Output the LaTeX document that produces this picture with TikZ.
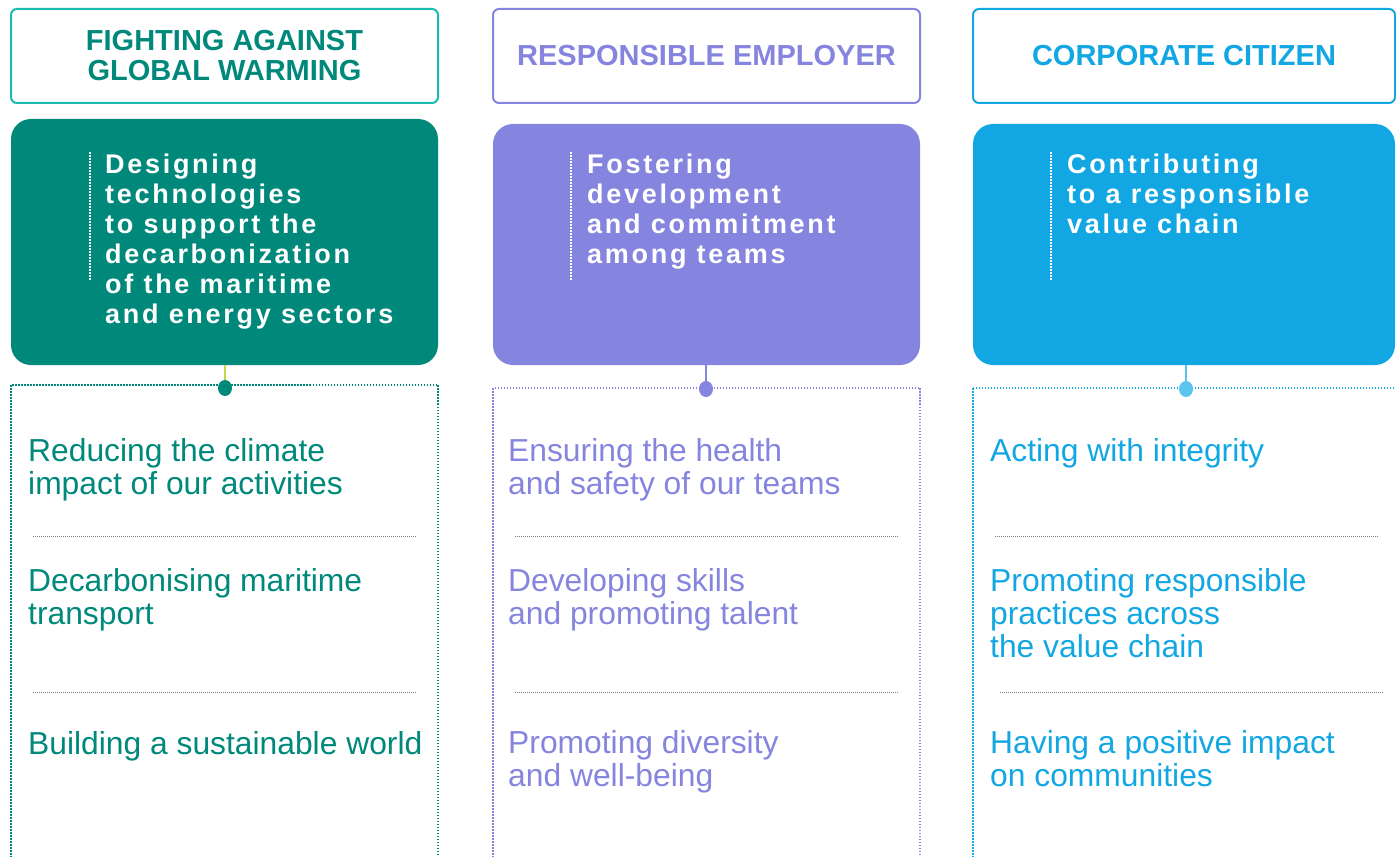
\documentclass[tikz,border=0pt]{standalone}
\usepackage{fontspec}
\setmainfont{Liberation Sans}
\newfontfamily\trackfont[LetterSpace=10]{Liberation Sans}
\usepackage{xcolor}
\usepackage{tikz}
\usetikzlibrary{shapes.geometric}
\definecolor{tealdark}{HTML}{00897B}
\definecolor{teallight}{HTML}{1ABCB0}
\definecolor{lavender}{HTML}{8585DF}
\definecolor{skyblue}{HTML}{12A7E3}
\definecolor{skylight}{HTML}{5BC5F2}
\definecolor{limegreen}{HTML}{BFD94A}

\begin{document}
\begin{tikzpicture}[
    x=1pt, y=-1pt,
    header/.style={
        % The shape:
        rectangle, rounded corners=6pt,
        minimum width=427pt, minimum height=94pt,
        line width=2pt, inner sep=0pt,
        % The fonts
        align=center, font=\fontsize{29}{30}\selectfont\bfseries},
    pillar/.style={
        rectangle, rounded corners=20pt,
        minimum width=427pt, inner sep=0pt},
    % base anchor = baseline of the last line
    goaltext/.style={
        text=white, align=left, inner sep=0pt, anchor=base west,
        font=\trackfont\bfseries\fontsize{27}{30}\selectfont},
    item/.style={
        align=left, inner sep=0pt, anchor=base west,
        font=\fontsize{31.8}{33}\selectfont},
    knob/.style={
        ellipse, minimum width=14pt, minimum height=16pt, inner sep=0pt},
    stem/.style={line width=1.8pt},
    tick/.style={white, line width=1.5pt, dash pattern=on 1.5pt off 1.5pt},
    actbox/.style={line width=1.5pt, dash pattern=on 1.5pt off 1.5pt},
    divider/.style={gray, line width=1pt, dash pattern=on 1pt off 1pt}]
  \useasboundingbox (0,0) rectangle (1396,856);
  \clip (0,0) rectangle (1396,856);
  % headers
  \node (hdr1) [header, draw=teallight, text=tealdark] at (224.5,56) {FIGHTING AGAINST\\GLOBAL WARMING};
  \node (hdr2) [header, draw=lavender, text=lavender] at (706.5,56) {RESPONSIBLE EMPLOYER};
  \node (hdr3) [header, draw=skyblue, text=skyblue, minimum width=422pt] at (1184,56) {CORPORATE CITIZEN};
  % coloured boxes
  \node (pill1) [pillar, fill=tealdark, minimum height=246pt] at (224.5,242) {};
  \node (pill2) [pillar, fill=lavender, minimum height=241pt] at (706.5,244.5) {};
  \node (pill3) [pillar, fill=skyblue, minimum height=241pt, minimum width=422pt] at (1184,244.5) {};
  \draw[tick] (90,152) -- (90,280);
  \draw[tick] (571,152) -- (571,280);
  \draw[tick] (1051,152) -- (1051,280);
  \node (goal1) [goaltext] at (105,323) {Designing\\technologies\\to support the\\decarbonization\\of the maritime\\and energy sectors};
  \node (goal2) [goaltext] at (587,263) {Fostering\\development\\and commitment\\among teams};
  \node (goal3) [goaltext] at (1067,233) {Contributing\\to a responsible\\value chain};
  % dotted boxes
  \draw[actbox, draw=tealdark] (11,385) rectangle (438,900);
  \draw[actbox, draw=lavender] (493,388) rectangle (920,900);
  \draw[actbox, draw=skyblue] (973,388) rectangle (1420,900);
  \draw[divider] (33,536) -- (416,536);
  \draw[divider] (33,692) -- (416,692);
  \draw[divider] (515,536) -- (898,536);
  \draw[divider] (515,692) -- (898,692);
  \draw[divider] (995,536) -- (1378,536);
  \draw[divider] (1000,692) -- (1384,692);
  % dots and stems
  \node (dot1) [knob, fill=tealdark] at (225,388) {};
  \node (dot2) [knob, fill=lavender] at (706,389) {};
  \node (dot3) [knob, fill=skylight] at (1186,389) {};
  \draw[stem, draw=limegreen] (pill1.south -| dot1) -- (dot1);
  \draw[stem, draw=lavender] (pill2.south -| dot2) -- (dot2);
  \draw[stem, draw=skylight] (pill3.south -| dot3) -- (dot3);
  % items
  \node (act11) [item, text=tealdark] at (28,494) {Reducing the climate\\impact of our activities};
  \node (act12) [item, text=tealdark] at (28,624) {Decarbonising maritime\\transport};
  \node (act13) [item, text=tealdark] at (28,754) {Building a sustainable world};
  \node (act21) [item, text=lavender] at (508,494) {Ensuring the health\\and safety of our teams};
  \node (act22) [item, text=lavender] at (508,624) {Developing skills\\and promoting talent};
  \node (act23) [item, text=lavender] at (508,786) {Promoting diversity\\and well-being};
  \node (act31) [item, text=skyblue] at (990,461) {Acting with integrity};
  \node (act32) [item, text=skyblue] at (990,657) {Promoting responsible\\practices across\\the value chain};
  \node (act33) [item, text=skyblue] at (990,786) {Having a positive impact\\on communities};
\end{tikzpicture}
\end{document}
